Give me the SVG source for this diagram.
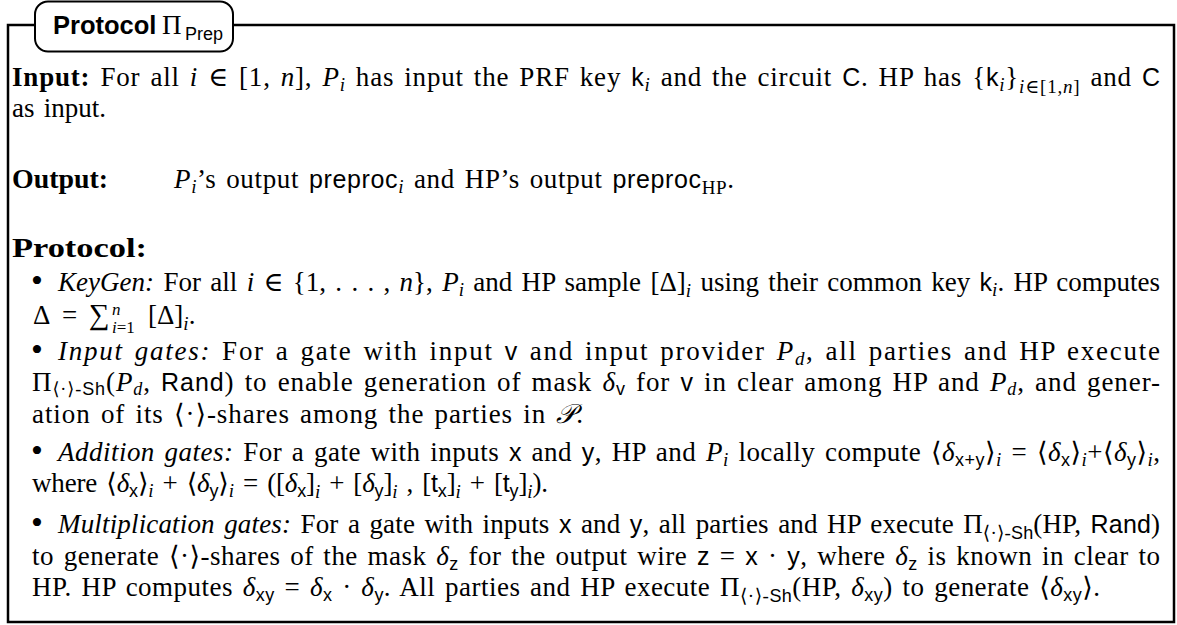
<svg xmlns="http://www.w3.org/2000/svg" width="1177" height="625" viewBox="0 0 1177 625">
<style>
.t{font-family:"Liberation Serif","DejaVu Serif",serif;font-size:27px;fill:#000;word-spacing:2.5px}
.i{font-style:italic}
.b{font-weight:bold}
.sf{font-family:"Liberation Sans","DejaVu Sans",sans-serif;font-size:25px}
.s{font-size:19px}
.ss{font-family:"Liberation Sans","DejaVu Sans",sans-serif;font-size:18px}
.s2{font-size:18px}
.sc{font-size:17px}
.bu{font-size:34px}
.frame{fill:none;stroke:#000;stroke-width:2.5}
.tab{fill:#fff;stroke:#000;stroke-width:2}
.title{font-family:"Liberation Sans","DejaVu Sans",sans-serif;font-weight:bold;font-size:25.5px}
</style>
<rect width="1177" height="625" fill="#fff"/>
<g id="frame"><path class="frame" d="M8,25 H1174 V622 H8 Z"/></g>
<g id="title">
<rect class="tab" x="35" y="1.5" width="198" height="50" rx="13"/>
<text x="53" y="34" class="title">Protocol</text>
<text x="162" y="34" font-family="Liberation Serif, DejaVu Serif, serif" font-size="27">Π</text>
<text x="185" y="40" font-family="Liberation Sans, DejaVu Sans, sans-serif" font-size="18">Prep</text>
</g>
<g id="body" class="t">
<text x="12" y="86" textLength="1148" lengthAdjust="spacing"><tspan class="b">Input:</tspan> For all <tspan class="i">i</tspan> ∈ [1, <tspan class="i">n</tspan>], <tspan class="i">P</tspan><tspan class="s i" dy="5">i</tspan><tspan dy="-5"> has input the PRF key </tspan><tspan class="sf">k</tspan><tspan class="s i" dy="5">i</tspan><tspan dy="-5"> and the circuit </tspan><tspan class="sf">C</tspan>. HP has {<tspan class="sf">k</tspan><tspan class="s i" dy="5">i</tspan><tspan dy="-5">}</tspan><tspan class="s" dy="7"><tspan class="i">i</tspan>∈[1,<tspan class="i">n</tspan>]</tspan><tspan dy="-7"> and </tspan><tspan class="sf">C</tspan></text>
<text x="12" y="117">as input.</text>
<text x="12" y="188" class="t b" textLength="96" lengthAdjust="spacingAndGlyphs">Output:</text>
<text x="174" y="188" textLength="560" lengthAdjust="spacing"><tspan class="i">P</tspan><tspan class="s i" dy="5">i</tspan><tspan dy="-5">’s output </tspan><tspan class="sf">preproc</tspan><tspan class="s i" dy="5">i</tspan><tspan dy="-5"> and HP’s output </tspan><tspan class="sf">preproc</tspan><tspan class="s" dy="6">HP</tspan><tspan dy="-6">.</tspan></text>
<text x="12" y="257" class="t b" textLength="135" lengthAdjust="spacingAndGlyphs">Protocol:</text>

<text x="31" y="292" class="bu">•</text>
<text x="58" y="291" textLength="1102" lengthAdjust="spacing"><tspan class="i">KeyGen:</tspan> For all <tspan class="i">i</tspan> ∈ {1, . . . , <tspan class="i">n</tspan>}, <tspan class="i">P</tspan><tspan class="s i" dy="5">i</tspan><tspan dy="-5"> and HP sample [Δ]</tspan><tspan class="s i" dy="6">i</tspan><tspan dy="-6"> using their common key </tspan><tspan class="sf">k</tspan><tspan class="s i" dy="5">i</tspan><tspan dy="-5">. HP computes</tspan></text>
<text x="33" y="324">Δ</text>
<text x="62" y="324">=</text>
<text x="89" y="324" font-size="29">∑</text>
<text x="112" y="315" class="sc i">n</text>
<text x="112" y="333" class="sc"><tspan class="i">i</tspan>=1</text>
<text x="148" y="324">[Δ]<tspan class="s i" dy="6">i</tspan><tspan dy="-6">.</tspan></text>

<text x="31" y="361" class="bu">•</text>
<text x="58" y="360" textLength="1102" lengthAdjust="spacing"><tspan class="i">Input gates:</tspan> For a gate with input <tspan class="sf">v</tspan> and input provider <tspan class="i">P</tspan><tspan class="s i" dy="5">d</tspan><tspan dy="-5">, all parties and HP execute</tspan></text>
<text x="32" y="391" textLength="1128" lengthAdjust="spacing">Π<tspan class="s2" dy="4">⟨·⟩-<tspan class="ss">Sh</tspan></tspan><tspan dy="-4">(</tspan><tspan class="i">P</tspan><tspan class="s2 i" dy="4">d</tspan><tspan dy="-4">, </tspan><tspan class="sf">Rand</tspan>) to enable generation of mask <tspan class="i">δ</tspan><tspan class="ss" dy="4">v</tspan><tspan dy="-4"> for </tspan><tspan class="sf">v</tspan> in clear among HP and <tspan class="i">P</tspan><tspan class="s2 i" dy="4">d</tspan><tspan dy="-4">, and gener-</tspan></text>
<text x="32" y="423" textLength="551" lengthAdjust="spacing">ation of its ⟨·⟩-shares among the parties in <tspan class="i">𝒫</tspan>.</text>

<text x="31" y="462" class="bu">•</text>
<text x="58" y="461" textLength="1102" lengthAdjust="spacing"><tspan class="i">Addition gates:</tspan> For a gate with inputs <tspan class="sf">x</tspan> and <tspan class="sf">y</tspan>, HP and <tspan class="i">P</tspan><tspan class="s i" dy="5">i</tspan><tspan dy="-5"> locally compute ⟨</tspan><tspan class="i">δ</tspan><tspan class="ss" dy="5">x+y</tspan><tspan dy="-5">⟩</tspan><tspan class="s i" dy="5">i</tspan><tspan dy="-5"> = ⟨</tspan><tspan class="i">δ</tspan><tspan class="ss" dy="5">x</tspan><tspan dy="-5">⟩</tspan><tspan class="s i" dy="5">i</tspan><tspan dy="-5">+⟨</tspan><tspan class="i">δ</tspan><tspan class="ss" dy="5">y</tspan><tspan dy="-5">⟩</tspan><tspan class="s i" dy="5">i</tspan><tspan dy="-5">,</tspan></text>
<text x="32" y="492" textLength="516" lengthAdjust="spacing">where ⟨<tspan class="i">δ</tspan><tspan class="ss" dy="5">x</tspan><tspan dy="-5">⟩</tspan><tspan class="s i" dy="5">i</tspan><tspan dy="-5"> + ⟨</tspan><tspan class="i">δ</tspan><tspan class="ss" dy="5">y</tspan><tspan dy="-5">⟩</tspan><tspan class="s i" dy="5">i</tspan><tspan dy="-5"> = ([</tspan><tspan class="i">δ</tspan><tspan class="ss" dy="5">x</tspan><tspan dy="-5">]</tspan><tspan class="s i" dy="6">i</tspan><tspan dy="-6"> + [</tspan><tspan class="i">δ</tspan><tspan class="ss" dy="5">y</tspan><tspan dy="-5">]</tspan><tspan class="s i" dy="6">i</tspan><tspan dy="-6"> , [</tspan><tspan class="sf">t</tspan><tspan class="ss" dy="5">x</tspan><tspan dy="-5">]</tspan><tspan class="s i" dy="6">i</tspan><tspan dy="-6"> + [</tspan><tspan class="sf">t</tspan><tspan class="ss" dy="5">y</tspan><tspan dy="-5">]</tspan><tspan class="s i" dy="6">i</tspan><tspan dy="-6">).</tspan></text>

<text x="31" y="534" class="bu">•</text>
<text x="58" y="533" textLength="1102" lengthAdjust="spacing"><tspan class="i">Multiplication gates:</tspan> For a gate with inputs <tspan class="sf">x</tspan> and <tspan class="sf">y</tspan>, all parties and HP execute Π<tspan class="s" dy="6">⟨·⟩-<tspan class="ss">Sh</tspan></tspan><tspan dy="-6">(HP, </tspan><tspan class="sf">Rand</tspan>)</text>
<text x="32" y="565" textLength="1128" lengthAdjust="spacing">to generate ⟨·⟩-shares of the mask <tspan class="i">δ</tspan><tspan class="ss" dy="5">z</tspan><tspan dy="-5"> for the output wire </tspan><tspan class="sf">z</tspan> = <tspan class="sf">x</tspan> · <tspan class="sf">y</tspan>, where <tspan class="i">δ</tspan><tspan class="ss" dy="5">z</tspan><tspan dy="-5"> is known in clear to</tspan></text>
<text x="32" y="596" textLength="1068" lengthAdjust="spacing">HP. HP computes <tspan class="i">δ</tspan><tspan class="ss" dy="5">xy</tspan><tspan dy="-5"> = </tspan><tspan class="i">δ</tspan><tspan class="ss" dy="5">x</tspan><tspan dy="-5"> · </tspan><tspan class="i">δ</tspan><tspan class="ss" dy="5">y</tspan><tspan dy="-5">. All parties and HP execute Π</tspan><tspan class="s" dy="6">⟨·⟩-<tspan class="ss">Sh</tspan></tspan><tspan dy="-6">(HP, </tspan><tspan class="i">δ</tspan><tspan class="ss" dy="5">xy</tspan><tspan dy="-5">) to generate ⟨</tspan><tspan class="i">δ</tspan><tspan class="ss" dy="5">xy</tspan><tspan dy="-5">⟩.</tspan></text>
</g>
</svg>
